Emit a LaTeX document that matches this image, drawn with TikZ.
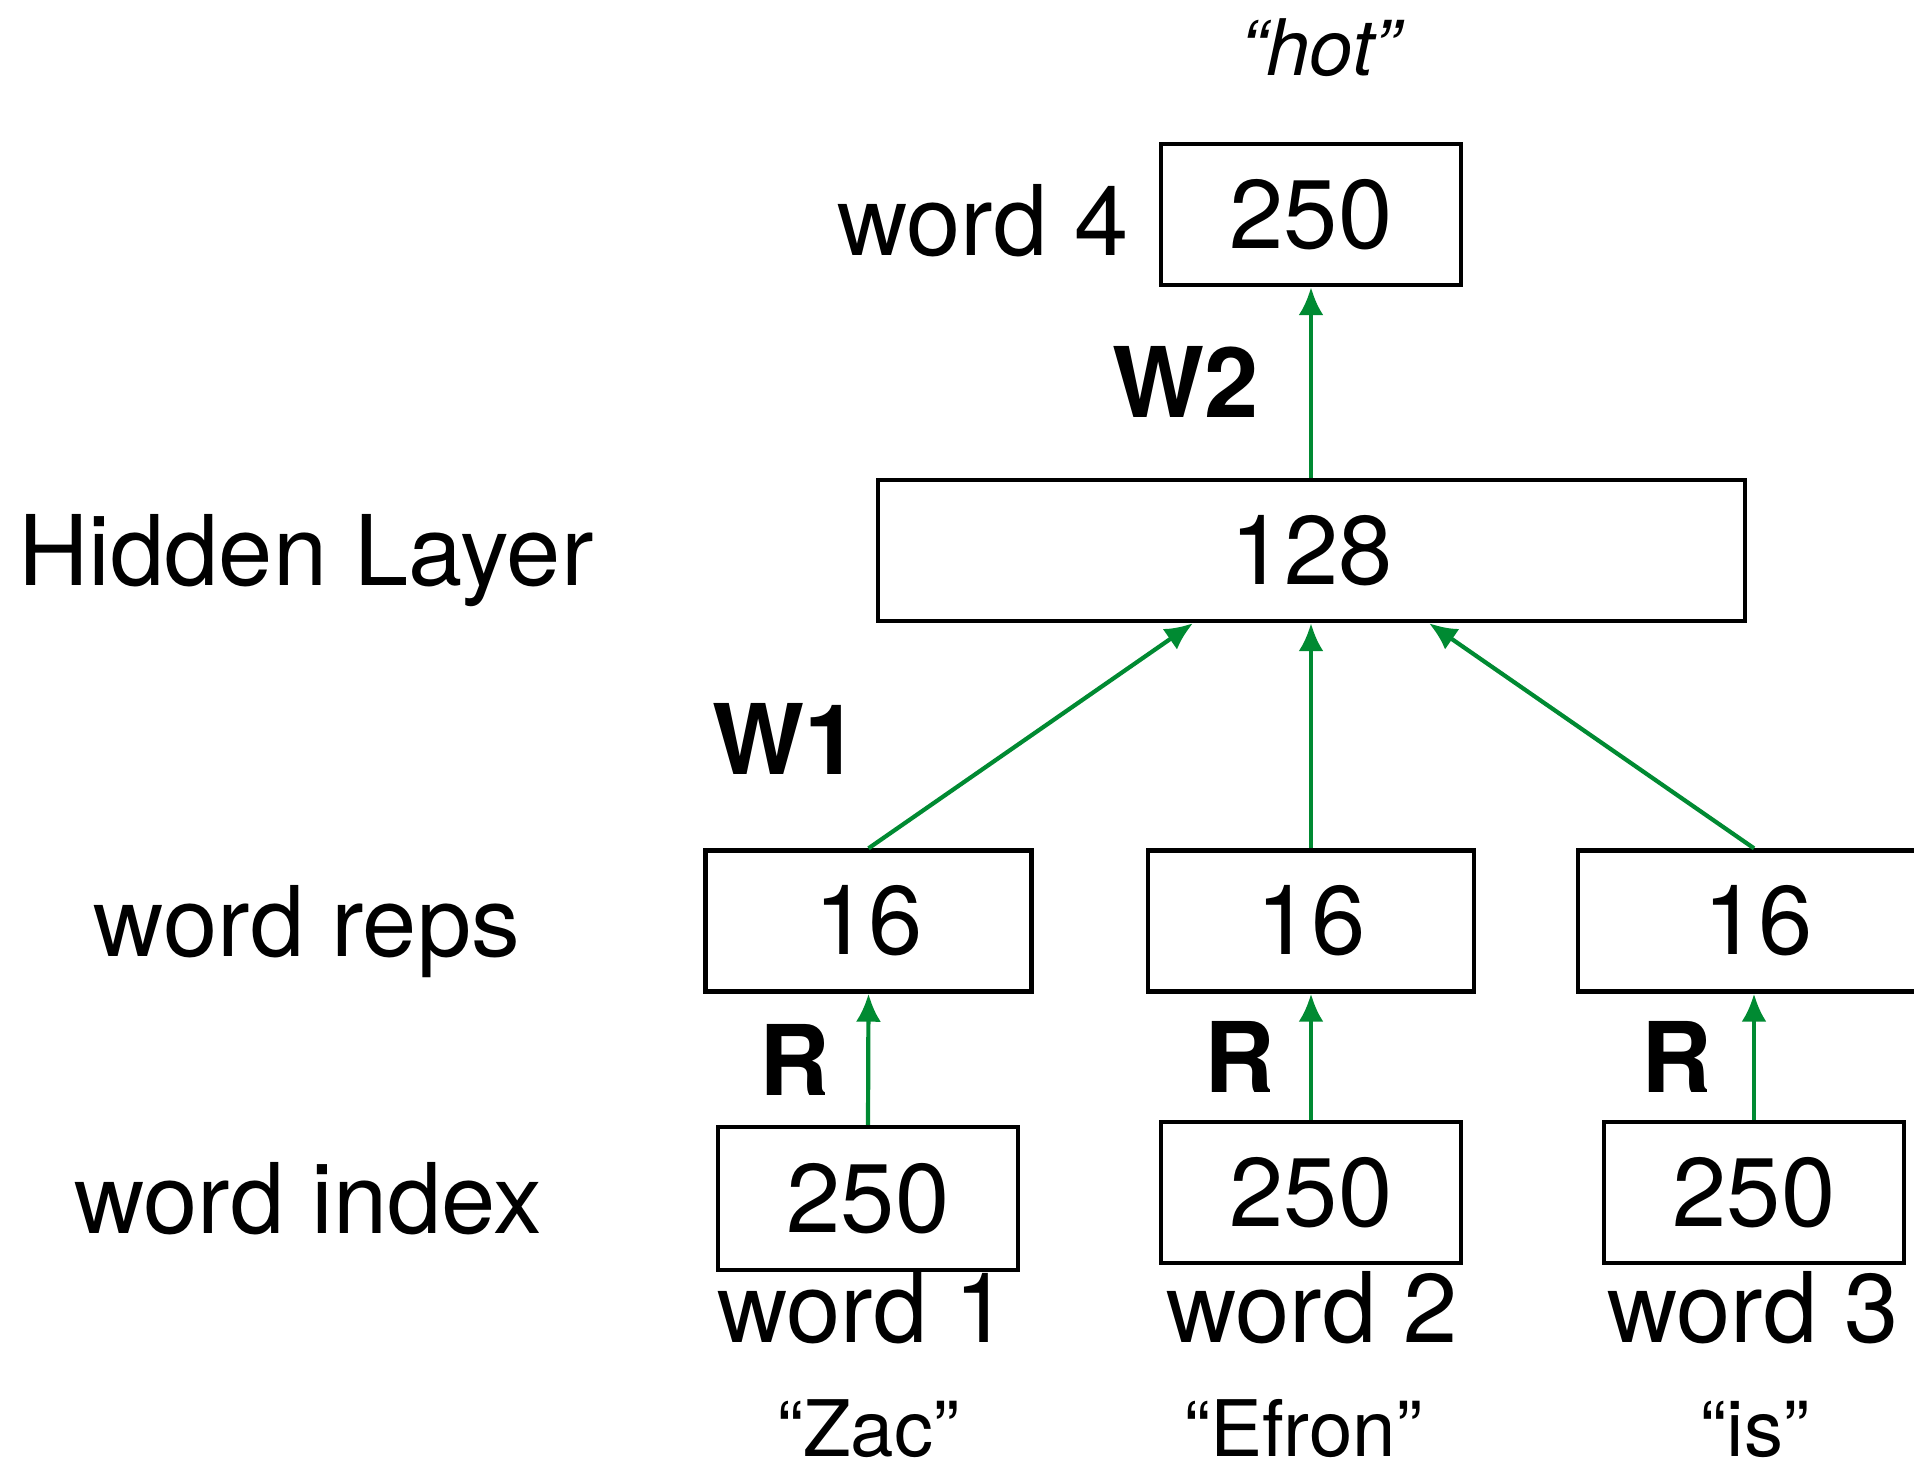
\documentclass[tikz,border=0pt]{standalone}
\usepackage{fontspec}
\setmainfont{TeX Gyre Heros}
\usetikzlibrary{arrows.meta,calc}
\definecolor{arrgreen}{RGB}{0,138,50}
\tikzset{
  box/.style={draw=black, line width=2.2pt, rectangle, inner sep=0pt, minimum height=70.5pt},
  smallbox/.style={box, minimum width=150pt},
  repbox/.style={box, minimum width=163pt},
  lbl/.style={anchor=base, inner sep=0pt},
  boldlbl/.style={lbl, font=\fontsize{48.75pt}{58pt}\selectfont\bfseries},
  quotelbl/.style={lbl, font=\fontsize{39pt}{46pt}\selectfont},
  arr/.style={draw=arrgreen, line width=2.1pt, -{Latex[length=14pt,width=12.5pt]}}
}
\begin{document}
\begin{tikzpicture}[x=0.5pt, y=-0.5pt, font=\fontsize{48.75pt}{58pt}\selectfont]
\useasboundingbox (0,0) rectangle (1914,1463);
\clip (0,0) rectangle (1914,1463);
\fill[white] (0,0) rectangle (1914,1463);

% boxes
\node[smallbox] (out) at (1311,214.5) {250};
\node[box, minimum width=433.5pt] (hid) at (1311.5,550.5) {128};
\node[repbox] (rep1) at (868.5,921) {16};
\node[repbox] (rep2) at (1311,921) {16};
\node[box, minimum width=176pt] (rep3) at (1754,921) {\hspace*{4pt}16};
\node[smallbox, minimum height=71.5pt] (idx1) at (868,1198.5) {250};
\node[smallbox] (idx2) at (1311,1192.5) {250};
\node[smallbox] (idx3) at (1754,1192.5) {250};

% labels
\node[quotelbl, font=\fontsize{39pt}{46pt}\selectfont\itshape] (hot) at (1320,75) {“hot”};
\node[lbl] (w4) at (983,255) {word 4};
\node[boldlbl] (W2) at (1186,417) {W2};
\node[lbl] (hl) at (306,585) {Hidden Layer};
\node[boldlbl] (W1) at (786,774) {W1};
\node[lbl] (wr) at (307,956) {word reps};
\node[boldlbl] (R1) at (795,1095) {R};
\node[boldlbl] (R2) at (1240,1092) {R};
\node[boldlbl] (R3) at (1677,1092) {R};
\node[lbl] (wi) at (308,1233) {word index};
\node[lbl] (n1) at (863,1342) {word 1};
\node[lbl] (n2) at (1312,1342) {word 2};
\node[lbl] (n3) at (1753,1342) {word 3};
\node[quotelbl] (q1) at (868,1456) {“Zac”};
\node[quotelbl] (q2) at (1303,1456) {“Efron”};
\node[quotelbl] (q3) at (1755,1456) {“is”};

% connectors
\draw[arr] (idx1.north) -- (rep1.south);
\draw[arr] (idx2.north) -- (rep2.south);
\draw[arr] (idx3.north) -- (rep3.south);
\draw[arr] (rep1.north) -- ($(hid.south)+(-118.5,0)$);
\draw[arr] (rep2.north) -- (rep2.north |- hid.south);
\draw[arr] (rep3.north) -- ($(hid.south)+(117.5,0)$);
\draw[arr] (hid.north -| out.south) -- (out.south);
\end{tikzpicture}
\end{document}
